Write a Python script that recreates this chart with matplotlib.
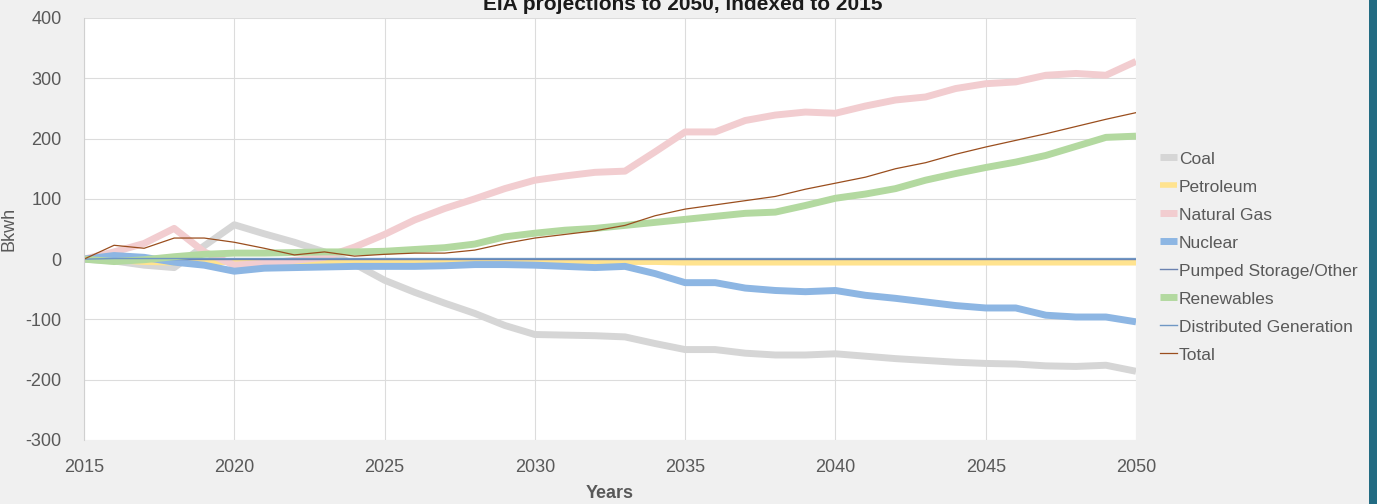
import matplotlib
matplotlib.use("Agg")
import matplotlib.pyplot as plt
from matplotlib.patches import Rectangle

plt.rcParams['font.family'] = ['Liberation Sans', 'DejaVu Sans']
plt.rcParams['axes.unicode_minus'] = False

# EIA projections, indexed to 2015 (Bkwh)
years = list(range(2015, 2051))

coal = [0, -3, -10, -14, 22, 57, 42, 28, 12, -8, -35, -55, -73, -90, -110, -125,
        -126, -127, -129, -140, -150, -150, -156, -159, -159, -157, -161, -165, -168,
        -171, -173, -174, -177, -178, -176, -186]
petroleum = [0, -2, -5, -6, -5, -5, -5, -5, -5, -5, -5, -5, -5, -5, -5, -5,
             -5, -5, -5, -5, -6, -6, -6, -6, -6, -6, -6, -6, -6, -6, -6, -6, -6,
             -6, -6, -6]
natural_gas = [0, 12, 26, 51, 12, -10, -7, -2, 3, 20, 41, 65, 84, 100, 117, 131,
               138, 144, 146, 178, 211, 211, 230, 239, 244, 242, 254, 264, 269, 283,
               291, 294, 305, 308, 305, 328]
nuclear = [0, 6, 3, -5, -10, -20, -15, -14, -13, -12, -12, -12, -11, -9, -9, -10,
           -12, -14, -12, -24, -39, -39, -48, -52, -54, -52, -60, -65, -71, -77,
           -81, -81, -93, -96, -96, -104]
pumped_storage = [0] * 36
renewables = [0, -4, -1, 4, 8, 10, 10, 11, 12, 12, 13, 16, 19, 25, 37, 43,
              48, 51, 56, 61, 66, 71, 76, 78, 89, 101, 108, 117, 131, 142, 152,
              161, 172, 187, 202, 204]
distributed = [0, 1, 1, 1, 1, 1, 1, 1, 1, 1, 1, 1, 1, 1, 1, 1, 1, 1, 1, 1,
               1, 1, 1, 1, 1, 1, 1, 1, 1, 1, 1, 1, 1, 1, 1, 1]
total = [0, 23, 18, 35, 35, 28, 18, 7, 12, 5, 8, 10, 10, 15, 26, 35, 41, 47, 56,
         72, 83, 90, 97, 104, 116, 126, 136, 150, 160, 174, 186, 197, 208, 220,
         232, 243]

fig = plt.figure(figsize=(13.77, 5.04), dpi=100, facecolor='#f0f0f0')
ax = fig.add_axes([84 / 1377, 1 - 440 / 504, (1136 - 84) / 1377, (440 - 18) / 504])
ax.set_facecolor('white')

ax.plot(years, coal, color='#d6d6d6', lw=5, label='Coal', solid_capstyle='butt')
ax.plot(years, petroleum, color='#ffe38f', lw=4, label='Petroleum', solid_capstyle='butt')
ax.plot(years, natural_gas, color='#f2cdd0', lw=5, label='Natural Gas', solid_capstyle='butt')
ax.plot(years, nuclear, color='#8db6e3', lw=5, label='Nuclear', solid_capstyle='butt')
ax.plot(years, pumped_storage, color='#6b82b0', lw=1.0, label='Pumped Storage/Other')
ax.plot(years, renewables, color='#b3d9a0', lw=5, label='Renewables', solid_capstyle='butt')
ax.plot(years, distributed, color='#6f97c4', lw=1.0, label='Distributed Generation')
ax.plot(years, total, color='#9a4e1e', lw=0.9, label='Total')

ax.set_xlim(2015, 2050)
ax.set_ylim(-300, 400)
ax.set_xticks(range(2015, 2051, 5))
ax.set_yticks(range(-300, 401, 100))
ax.grid(True, color='#dcdcdc', lw=0.8)
ax.set_axisbelow(True)
for side in ['top', 'right', 'bottom']:
    ax.spines[side].set_visible(False)
ax.spines['left'].set_color('#d0d0d0')
ax.tick_params(axis='both', length=0, labelsize=13, labelcolor='#595959')
ax.tick_params(axis='y', pad=16)
ax.tick_params(axis='x', pad=14)

ax.set_xlabel('Years', fontsize=13, fontweight='bold', color='#595959', labelpad=6)
ax.set_ylabel('Bkwh', fontsize=13, color='#595959')
ax.yaxis.set_label_coords((18 - 84) / 1052, 0.5)

fig.text(683 / 1377, 1 - 10 / 504, 'EIA projections to 2050, indexed to 2015',
         ha='center', va='baseline', fontsize=15, fontweight='bold', color='#1a1a1a')

leg = fig.legend(loc='center left', bbox_to_anchor=(1160 / 1377, 1 - 257 / 504),
                 frameon=False, fontsize=12.5, handlelength=1.0, handletextpad=0.1,
                 labelspacing=0.74, borderpad=0, borderaxespad=0)
for t in leg.get_texts():
    t.set_color('#595959')

# teal strip on the right edge
fig.patches.append(Rectangle((1369 / 1377, 0), 8 / 1377, 1, transform=fig.transFigure,
                             facecolor='#226b82', edgecolor='none'))

fig.savefig('out.png', dpi=100, facecolor=fig.get_facecolor())
